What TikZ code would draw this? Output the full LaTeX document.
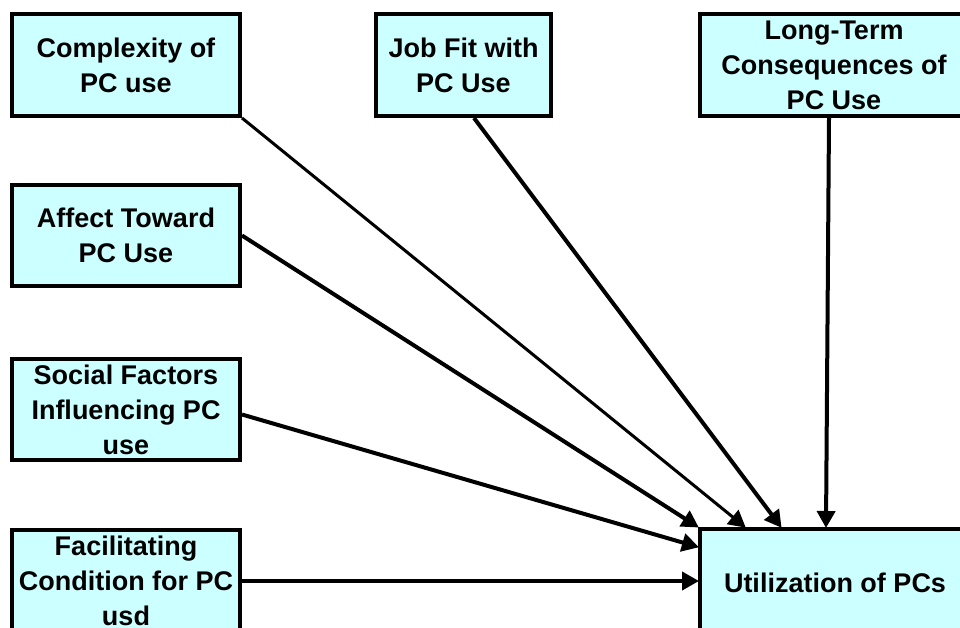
\documentclass[tikz,border=0pt]{standalone}
\usepackage{fontspec}
\setmainfont{Liberation Sans}
\usetikzlibrary{arrows.meta,calc}
\definecolor{boxfill}{HTML}{CCFFFF}
\tikzset{
  factor/.style={draw=black, line width=4pt, fill=boxfill, rectangle,
    inner sep=0pt, align=center, text=black,
    font=\fontsize{27}{35}\selectfont\bfseries},
  link/.style={line width=4pt, -{Triangle[length=17pt,width=18pt]}, shorten >=-1pt}
}
\begin{document}
\begin{tikzpicture}[x=1pt,y=-1pt]
\useasboundingbox (0,0) rectangle (960,628);
\clip (0,0) rectangle (960,628);

% determinant boxes
\node[factor, minimum width=228pt, minimum height=102pt] (cx) at (126,65) {Complexity of\\PC use};
\node[factor, minimum width=175pt, minimum height=102pt] (jf) at (463.5,65) {Job Fit with\\PC Use};
\node[factor, minimum width=268pt, minimum height=102pt] (lt) at (834,65) {Long-Term\\Consequences of\\PC Use};
\node[factor, minimum width=228pt, minimum height=101pt] (af) at (126,235.5) {Affect Toward\\PC Use};
\node[factor, minimum width=228pt, minimum height=101pt] (sf) at (126,409.5) {Social Factors\\Influencing PC\\use};
\node[factor, minimum width=228pt, minimum height=102pt] (fc) at (126,581) {Facilitating\\Condition for PC\\usd};

% outcome box
\node[factor, minimum width=270pt, minimum height=107pt] (ut) at (835,582.5) {Utilization of PCs};

% connectors into the outcome
\draw[link, line width=3pt] (cx.south east) -- ($(ut.north west)+(47,0)$);
\draw[link] ($(jf.south)+(10.5,0)$) -- ($(ut.north west)+(83,0)$);
\draw[link] ($(lt.south)+(-5,0)$) -- ($(ut.north west)+(128,0)$);
\draw[link] (af.east) -- (ut.north west);
\draw[link] ($(sf.east)+(0,5)$) -- ($(ut.north west)+(0,20)$);
\draw[link] (fc.east) -- (fc.east -| ut.west);
\end{tikzpicture}
\end{document}
